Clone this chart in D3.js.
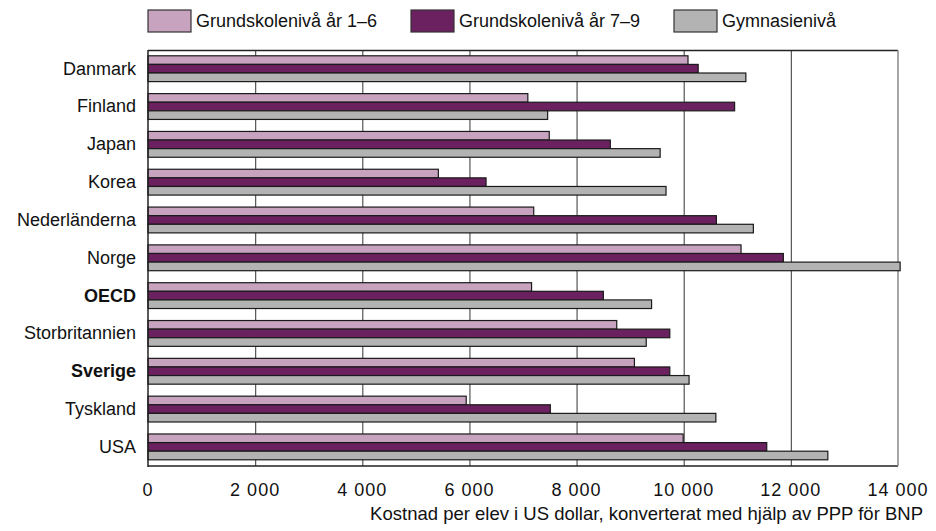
<!DOCTYPE html>
<html>
<head>
<meta charset="utf-8">
<script src="https://cdn.jsdelivr.net/npm/d3@7"></script>
<style>
  body { margin: 0; background: #fff; }
  text { font-family: "Liberation Sans", Arial, sans-serif; fill: #111; }
</style>
</head>
<body>
<script>
'use strict';

// data (USD per student, PPP)
const countries = ["Danmark", "Finland", "Japan", "Korea", "Nederländerna", "Norge",
    "OECD", "Storbritannien", "Sverige", "Tyskland", "USA"];
const boldCountries = ["OECD", "Sverige"];
const seriesNames = ["Grundskolenivå år 1–6", "Grundskolenivå år 7–9", "Gymnasienivå"];
const primary = [10080, 7090, 7490, 5420, 7200, 11070, 7160, 8750, 9080, 5940, 9990];
const lower = [10270, 10950, 8630, 6310, 10610, 11860, 8500, 9740, 9740, 7510, 11550];
const upper = [11160, 7460, 9560, 9670, 11300, 14040, 9400, 9300, 10100, 10600, 12690];
const xTicks = [0, 2000, 4000, 6000, 8000, 10000, 12000, 14000];
const axisTitle = "Kostnad per elev i US dollar, konverterat med hjälp av PPP för BNP";

const width = 936, height = 531;
const colors = ["#c8a3c0", "#6b215f", "#b3b3b3"];

let svg = d3.select("body").append("svg")
    .attr("width", width)
    .attr("height", height);

let x = d3.scaleLinear().domain([0, 14000]).range([148, 898]);
let y = d3.scaleBand().domain(countries).range([50, 466]);
let inner = d3.scaleBand().domain([0, 1, 2]).range([5.8, y.bandwidth() - 6.2]);

// gridlines (behind bars)
svg.append("g")
    .selectAll("line")
    .data(xTicks.slice(1, -1))
    .enter().append("line")
    .attr("x1", d => x(d) + 0.5)
    .attr("x2", d => x(d) + 0.5)
    .attr("y1", 50)
    .attr("y2", 466)
    .style("stroke", "#555")
    .style("stroke-width", 1.2);

// plot frame
svg.append("line").attr("x1", 148).attr("x2", 898).attr("y1", 50.5).attr("y2", 50.5)
    .style("stroke", "#222").style("stroke-width", 1.5);
svg.append("line").attr("x1", 148).attr("x2", 898).attr("y1", 466).attr("y2", 466)
    .style("stroke", "#222").style("stroke-width", 1.5);
svg.append("line").attr("x1", 898).attr("x2", 898).attr("y1", 50).attr("y2", 466)
    .style("stroke", "#888").style("stroke-width", 1.5);

let rows = countries.map((c, i) => ({ country: c, values: [primary[i], lower[i], upper[i]] }));

let groups = svg.append("g")
    .selectAll("g")
    .data(rows)
    .enter().append("g")
    .attr("transform", d => "translate(0," + y(d.country) + ")");

groups.selectAll("rect")
    .data(d => d.values)
    .enter().append("rect")
    .attr("x", x(0))
    .attr("y", (d, i) => inner(i))
    .attr("width", d => x(d) - x(0))
    .attr("height", inner.bandwidth())
    .style("fill", (d, i) => colors[i])
    .style("stroke", "#1a1a1a")
    .style("stroke-width", 1.2);

// left axis line on top
svg.append("line").attr("x1", 148).attr("x2", 148).attr("y1", 50).attr("y2", 467)
    .style("stroke", "#222").style("stroke-width", 1.5);

// category labels
svg.append("g")
    .selectAll("text")
    .data(countries)
    .enter().append("text")
    .attr("x", 136)
    .attr("y", d => y(d) + y.bandwidth() / 2 + 1)
    .attr("text-anchor", "end")
    .attr("dominant-baseline", "middle")
    .style("font-size", "18px")
    .style("font-weight", d => boldCountries.includes(d) ? "bold" : "normal")
    .text(d => d);

// x tick labels
svg.append("g")
    .selectAll("text")
    .data(xTicks)
    .enter().append("text")
    .attr("x", d => x(d))
    .attr("y", 496)
    .attr("text-anchor", "middle")
    .style("font-size", "18px")
    .style("letter-spacing", "1px")
    .text(d => d3.format(",")(d).replace(/,/g, " "));

svg.append("text")
    .attr("x", 923)
    .attr("y", 520)
    .attr("text-anchor", "end")
    .style("font-size", "18.5px")
    .text(axisTitle);

// legend
let legendX = [148, 411, 674];
let legend = svg.append("g")
    .selectAll("g")
    .data(seriesNames)
    .enter().append("g")
    .attr("transform", (d, i) => "translate(" + legendX[i] + ",10)");

legend.append("rect")
    .attr("width", 43)
    .attr("height", 22)
    .style("fill", (d, i) => colors[i])
    .style("stroke", "#333")
    .style("stroke-width", 1.2);

legend.append("text")
    .attr("x", 48)
    .attr("y", 17)
    .style("font-size", "18px")
    .text(d => d);
</script>
</body>
</html>
